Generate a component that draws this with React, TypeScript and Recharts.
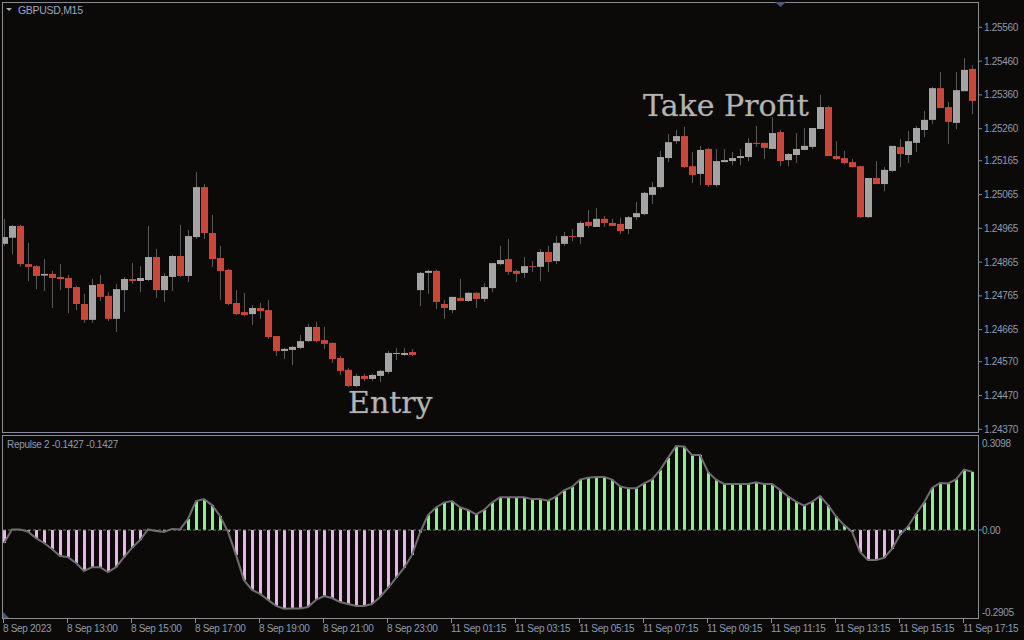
import React from "react";
import { ComposedChart, Bar, Line, XAxis, YAxis, Cell, ReferenceLine } from "recharts";

const BG = "#0c0a08";
const FRAME = "#868c9b";
const LABEL = "#8e9ab0";
const BULL = "#a4a4a4";
const BEAR = "#c8493a";
const WICK = "#5a5a5a";
const GREEN = "#90ee90";
const PINK = "#e0bce0";

// GBPUSD M15, 8 Sep 11:00 .. 11 Sep 17:30
const opens = [
  1.24919, 1.24937, 1.24972, 1.24859, 1.24853, 1.24825, 1.2483, 1.24821, 1.24818, 1.24791,
  1.24741, 1.24694, 1.248, 1.24765, 1.24697, 1.24782, 1.24815, 1.24809, 1.24812, 1.2488,
  1.24782, 1.24821, 1.24883, 1.24824, 1.24939, 1.25087, 1.24951, 1.24877, 1.24842, 1.24744,
  1.24717, 1.24711, 1.24729, 1.24723, 1.24646, 1.24602, 1.24605, 1.24611, 1.24631, 1.24673,
  1.24634, 1.24626, 1.24581, 1.24546, 1.24498, 1.24528, 1.24519, 1.24528, 1.2454, 1.24593,
  1.2459, 1.24599, 1.24782, 1.24833, 1.24839, 1.24741, 1.24723, 1.24759, 1.2475, 1.24774,
  1.24756, 1.24788, 1.24859, 1.24874, 1.24839, 1.24833, 1.24853, 1.24851, 1.24895, 1.24868,
  1.24919, 1.24942, 1.24939, 1.24984, 1.24969, 1.24993, 1.24981, 1.24978, 1.24963, 1.24998,
  1.25007, 1.25064, 1.25087, 1.25173, 1.25223, 1.25238, 1.25149, 1.25126, 1.252, 1.25093,
  1.25161, 1.25164, 1.25173, 1.25176, 1.25218, 1.25218, 1.252, 1.2525, 1.25167, 1.25182,
  1.25197, 1.25206, 1.25259, 1.25324, 1.25179, 1.25173, 1.25161, 1.25149, 1.24998, 1.25114,
  1.25096, 1.25135, 1.25206, 1.25182, 1.25218, 1.25256, 1.25286, 1.2538, 1.25324, 1.25277,
  1.25371, 1.25437,
];
const highs = [
  1.24993, 1.24975, 1.24975, 1.24922, 1.24856, 1.24874, 1.24839, 1.24859, 1.24827, 1.24794,
  1.24771, 1.24815, 1.24827, 1.24776, 1.248, 1.24821, 1.24862, 1.24853, 1.24972, 1.24904,
  1.24833, 1.24886, 1.24975, 1.2496, 1.25132, 1.25096, 1.25004, 1.24913, 1.24845, 1.24782,
  1.24774, 1.24738, 1.24744, 1.24753, 1.24646, 1.24611, 1.24617, 1.24649, 1.24682, 1.24688,
  1.24673, 1.24626, 1.24587, 1.24552, 1.24534, 1.24534, 1.24534, 1.24546, 1.24602, 1.24611,
  1.24611, 1.24608, 1.24836, 1.24842, 1.24842, 1.24753, 1.24762, 1.24815, 1.24776, 1.24776,
  1.24803, 1.24862, 1.24913, 1.24933, 1.24842, 1.2488, 1.24868, 1.24904, 1.24913, 1.24942,
  1.24954, 1.24963, 1.24987, 1.25019, 1.25025, 1.25001, 1.24993, 1.24996, 1.25001, 1.25043,
  1.25073, 1.25102, 1.25194, 1.25244, 1.25256, 1.25265, 1.25191, 1.25209, 1.25203, 1.252,
  1.252, 1.25191, 1.252, 1.25232, 1.25268, 1.25218, 1.25294, 1.25256, 1.25188, 1.25247,
  1.25262, 1.25262, 1.2536, 1.25327, 1.25223, 1.25194, 1.2517, 1.25149, 1.25114, 1.25164,
  1.25146, 1.25209, 1.25229, 1.25253, 1.25268, 1.25312, 1.25383, 1.25428, 1.25339, 1.25428,
  1.25469, 1.25448,
];
const lows = [
  1.24913, 1.24888, 1.24851, 1.24809, 1.24785, 1.24779, 1.24729, 1.24782, 1.24714, 1.24723,
  1.24685, 1.24685, 1.2475, 1.24691, 1.24658, 1.24717, 1.248, 1.24776, 1.24809, 1.24759,
  1.24747, 1.24779, 1.24821, 1.24806, 1.24933, 1.24933, 1.2485, 1.24753, 1.24738, 1.24708,
  1.24705, 1.24679, 1.24697, 1.24637, 1.24587, 1.24578, 1.2456, 1.24608, 1.24628, 1.24628,
  1.24608, 1.24566, 1.24531, 1.24495, 1.24495, 1.24513, 1.24513, 1.2451, 1.24534, 1.24575,
  1.24587, 1.24587, 1.24735, 1.24771, 1.24726, 1.24697, 1.24714, 1.2475, 1.24747, 1.24729,
  1.24747, 1.24776, 1.24856, 1.24827, 1.24806, 1.24818, 1.24836, 1.24809, 1.24836, 1.24859,
  1.24913, 1.24927, 1.24919, 1.24966, 1.24969, 1.24969, 1.24972, 1.24948, 1.24948, 1.2499,
  1.25004, 1.25037, 1.25084, 1.25161, 1.25215, 1.25144, 1.25099, 1.25093, 1.25087, 1.25087,
  1.25161, 1.25152, 1.25152, 1.25164, 1.25206, 1.2517, 1.252, 1.25149, 1.25149, 1.25158,
  1.25197, 1.252, 1.25259, 1.25179, 1.25167, 1.25155, 1.25146, 1.24996, 1.24996, 1.25096,
  1.25075, 1.25132, 1.25146, 1.25158, 1.25191, 1.25235, 1.25274, 1.25321, 1.25215, 1.25259,
  1.25371, 1.25303,
];
const closes = [
  1.24939, 1.24972, 1.24859, 1.24851, 1.24824, 1.2483, 1.24818, 1.24815, 1.24788, 1.24741,
  1.24694, 1.24797, 1.24762, 1.24697, 1.24785, 1.24815, 1.24809, 1.24818, 1.2488, 1.24782,
  1.24824, 1.24883, 1.24824, 1.24942, 1.25087, 1.24951, 1.24874, 1.24839, 1.24741, 1.24711,
  1.24708, 1.24729, 1.2472, 1.24643, 1.24602, 1.24608, 1.24614, 1.24631, 1.24673, 1.24631,
  1.24623, 1.24578, 1.24543, 1.24498, 1.24528, 1.24519, 1.24531, 1.24543, 1.24596, 1.24596,
  1.24596, 1.2459, 1.24833, 1.24839, 1.24747, 1.24729, 1.24762, 1.2475, 1.24774, 1.24756,
  1.24791, 1.24862, 1.24871, 1.24836, 1.2483, 1.24853, 1.24851, 1.24895, 1.24865, 1.24922,
  1.24942, 1.24939, 1.24981, 1.24972, 1.24993, 1.24981, 1.24972, 1.24957, 1.24998, 1.2501,
  1.2507, 1.25087, 1.25176, 1.2522, 1.25238, 1.25146, 1.25123, 1.25197, 1.25093, 1.25164,
  1.25167, 1.25173, 1.25179, 1.25218, 1.25215, 1.25203, 1.25247, 1.25164, 1.25185, 1.252,
  1.25209, 1.25262, 1.25324, 1.25179, 1.2517, 1.25158, 1.25146, 1.24998, 1.25114, 1.25096,
  1.25138, 1.25209, 1.25185, 1.25223, 1.25262, 1.25286, 1.2538, 1.25321, 1.2528, 1.25374,
  1.25434, 1.25342,
];

// Repulse 2 indicator
const repulse = [
  -0.048, 0.002, 0.002, -0.006, -0.03, -0.048, -0.07, -0.096, -0.1, -0.122,
  -0.151, -0.137, -0.137, -0.155, -0.137, -0.1, -0.066, -0.037, 0.002, -0.004,
  -0.007, 0.004, 0.002, 0.041, 0.107, 0.114, 0.092, 0.052, -0.007, -0.092,
  -0.185, -0.221, -0.236, -0.258, -0.28, -0.2905, -0.29, -0.29, -0.284, -0.258,
  -0.244, -0.251, -0.266, -0.273, -0.28, -0.28, -0.273, -0.247, -0.214, -0.177,
  -0.14, -0.092, -0.01, 0.055, 0.083, 0.101, 0.107, 0.084, 0.074, 0.058,
  0.074, 0.101, 0.121, 0.121, 0.121, 0.121, 0.114, 0.114, 0.108, 0.123,
  0.146, 0.159, 0.186, 0.193, 0.196, 0.196, 0.186, 0.161, 0.154, 0.154,
  0.172, 0.187, 0.221, 0.266, 0.3098, 0.308, 0.277, 0.277, 0.214, 0.186,
  0.17, 0.17, 0.17, 0.17, 0.176, 0.17, 0.17, 0.148, 0.124, 0.105,
  0.09, 0.104, 0.125, 0.092, 0.05, 0.018, -0.006, -0.081, -0.111, -0.111,
  -0.103, -0.07, -0.018, 0.013, 0.059, 0.101, 0.155, 0.173, 0.172, 0.187,
  0.223, 0.215,
];

const timeLabels = [
  "8 Sep 2023", "8 Sep 13:00", "8 Sep 15:00", "8 Sep 17:00", "8 Sep 19:00", "8 Sep 21:00",
  "8 Sep 23:00", "11 Sep 01:15", "11 Sep 03:15", "11 Sep 05:15", "11 Sep 07:15",
  "11 Sep 09:15", "11 Sep 11:15", "11 Sep 13:15", "11 Sep 15:15", "11 Sep 17:15",
];

const priceTicks = [
  1.2556, 1.2546, 1.2536, 1.2526, 1.25165, 1.25065, 1.24965, 1.24865, 1.24765, 1.24665,
  1.2457, 1.2447, 1.2437,
];
const repTicks = [0.3098, 0, -0.2905];

const rows = opens.map((o, i) => ({
  i,
  o,
  h: highs[i],
  l: lows[i],
  c: closes[i],
  range: [lows[i], highs[i]],
  rep: repulse[i],
}));

const font = { fontFamily: "Liberation Sans, Arial, sans-serif", fontSize: 10, letterSpacing: "-0.3px" };

function Candle(props: any) {
  const { x, y, width, height, payload } = props;
  const { o, h, l, c } = payload;
  const span = h - l;
  const toY = (p: number) => (span > 0 ? y + ((h - p) / span) * height : y);
  const top = toY(Math.max(o, c));
  const bot = toY(Math.min(o, c));
  return (
    <g>
      <rect x={x + Math.floor(width / 2)} y={y} width={1} height={Math.max(height, 1)} fill={WICK} />
      <rect x={x} y={top} width={width} height={Math.max(bot - top, 1)} fill={c >= o ? BULL : BEAR} />
    </g>
  );
}

function PriceTick(props: any) {
  const { y, payload } = props;
  return (
    <g>
      <line x1={978} x2={982} y1={y} y2={y} stroke={FRAME} />
      <text x={984} y={y + 3.5} fill={LABEL} style={font}>
        {Number(payload.value).toFixed(5)}
      </text>
    </g>
  );
}

function RepTick(props: any) {
  const { y, payload } = props;
  const v = Number(payload.value);
  const shift = v > 0 ? -3 : v < 0 ? 4 : 0;
  return (
    <g>
      {v === 0 && <line x1={978} x2={982} y1={y} y2={y} stroke={FRAME} />}
      <text x={982} y={y + shift + 3.5} fill={LABEL} style={font}>
        {v === 0 ? "0.00" : v.toFixed(4)}
      </text>
    </g>
  );
}

function TimeTick(props: any) {
  const { x, payload } = props;
  const idx = Math.round(Number(payload.value) / 8);
  return (
    <g>
      <line x1={x - 0.5} x2={x - 0.5} y1={185} y2={189} stroke={FRAME} />
      <text x={x - 1} y={198} fill={LABEL} style={font}>
        {timeLabels[idx]}
      </text>
    </g>
  );
}

export default function App() {
  return (
    <div style={{ position: "fixed", left: 0, top: 0, width: 1024, height: 640, background: BG, overflow: "hidden" }}>
      <div style={{ position: "absolute", left: 0, top: 0 }}>
        <ComposedChart width={1024} height={434} data={rows} margin={{ top: 2, right: 0, bottom: 2, left: 0 }}>
          <XAxis dataKey="i" type="category" hide />
          <YAxis
            orientation="right"
            width={48}
            type="number"
            domain={[1.24362, 1.25635]}
            allowDataOverflow
            ticks={priceTicks}
            interval={0}
            axisLine={false}
            tickLine={false}
            tick={(p: any) => <PriceTick {...p} />}
          />
          <Bar dataKey="range" barSize={7} isAnimationActive={false} shape={(p: any) => <Candle {...p} />} />
        </ComposedChart>
      </div>
      <div style={{ position: "absolute", left: 0, top: 434 }}>
        <ComposedChart width={1024} height={206} data={rows} margin={{ top: 2, right: 0, bottom: 0, left: 0 }}>
          <XAxis
            dataKey="i"
            type="category"
            height={21}
            interval={7}
            axisLine={false}
            tickLine={false}
            tick={(p: any) => <TimeTick {...p} />}
          />
          <YAxis
            orientation="right"
            width={48}
            type="number"
            domain={[-0.3284, 0.3469]}
            allowDataOverflow
            ticks={repTicks}
            interval={0}
            axisLine={false}
            tickLine={false}
            tick={(p: any) => <RepTick {...p} />}
          />
          <ReferenceLine y={0} stroke="#7a7a7a" strokeDasharray="3 2" />
          <Bar dataKey="rep" barSize={3} isAnimationActive={false}>
            {rows.map((r) => (
              <Cell key={r.i} fill={r.rep >= 0 ? GREEN : PINK} />
            ))}
          </Bar>
          <Line
            dataKey="rep"
            type="linear"
            stroke="#6e6e6e"
            strokeWidth={2}
            dot={false}
            activeDot={false}
            isAnimationActive={false}
          />
        </ComposedChart>
      </div>
      <svg width={1024} height={640} style={{ position: "absolute", left: 0, top: 0, pointerEvents: "none" }}>
        <rect x={0} y={0} width={2} height={640} fill={BG} />
        <rect x={2.5} y={2.5} width={976} height={430} fill="none" stroke={FRAME} />
        <rect x={2.5} y={435.5} width={976} height={183} fill="none" stroke={FRAME} />
        <polygon points="775,2 786,2 780.5,7" fill="#4b5878" />
        <polygon points="3,612 3,618 9,618" fill="#4b5878" />
        <polygon points="6,8 12,8 9,11" fill="#a3adc3" />
        <text x={18} y={14} fill="#9ea9bf" style={{ ...font, fontSize: 10.5 }}>
          GBPUSD,M15
        </text>
        <text x={7} y={448} fill={LABEL} style={font}>
          Repulse 2 -0.1427 -0.1427
        </text>
        <text
          x={348}
          y={413}
          fill="#b4b4b4"
          stroke="#4a4a4a"
          strokeWidth={0.6}
          style={{ fontFamily: "DejaVu Serif, serif", fontSize: 30, paintOrder: "stroke" }}
        >
          Entry
        </text>
        <text
          x={643}
          y={116}
          fill="#b4b4b4"
          stroke="#4a4a4a"
          strokeWidth={0.6}
          style={{ fontFamily: "DejaVu Serif, serif", fontSize: 30, paintOrder: "stroke" }}
        >
          Take Profit
        </text>
      </svg>
    </div>
  );
}
